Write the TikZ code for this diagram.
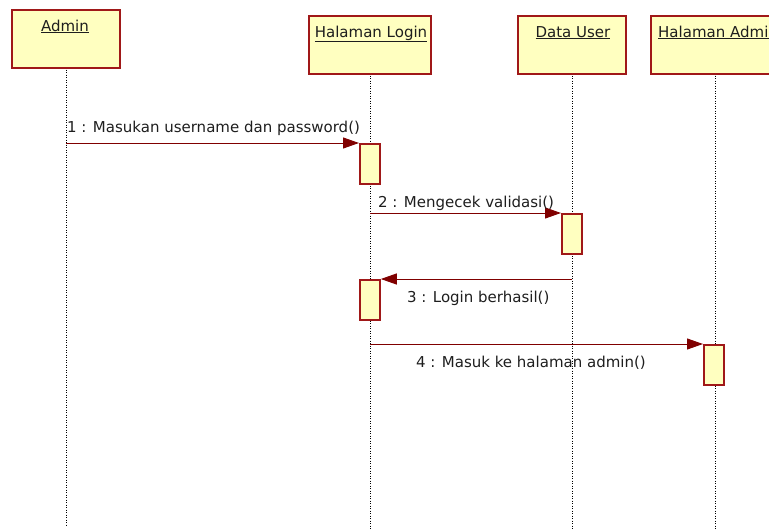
\documentclass[tikz,border=0pt]{standalone}
\usepackage{fontspec}
\setmainfont{DejaVu Sans}
\usetikzlibrary{arrows.meta}
\definecolor{bord}{HTML}{A01818}
\definecolor{fillY}{HTML}{FFFFC0}
\definecolor{msgc}{HTML}{800000}
\definecolor{txt}{HTML}{1E1E1E}
\begin{document}
\begin{tikzpicture}[x=1pt,y=-1pt,
  hdr/.style={draw=bord,fill=fillY,line width=2pt,inner sep=0pt,anchor=north west},
  actbox/.style={draw=bord,fill=fillY,line width=1.8pt,inner sep=0pt,minimum width=20pt,minimum height=40pt,anchor=north west},
  lbl/.style={text=txt,inner sep=0pt,font=\fontsize{15pt}{18pt}\selectfont},
  life/.style={draw=black,line width=0.9pt,dash pattern=on 1pt off 1.5pt},
  msgarrow/.style={draw=msgc,line width=1pt,-{Triangle[length=16pt,width=11pt]}}]
\useasboundingbox (0,0) rectangle (769,530);
\clip (0,0) rectangle (769,530);
% lifelines
\coordinate (l1t) at (66,67);   \coordinate (l1b) at (66,525);
\coordinate (l2t) at (370,73);  \coordinate (l2b) at (370,530);
\coordinate (l3t) at (572,73);  \coordinate (l3b) at (572,530);
\coordinate (l4t) at (715,73);  \coordinate (l4b) at (715,530);
\draw[life] (l1t) -- (l1b);
\draw[life] (l2t) -- (l2b);
\draw[life] (l3t) -- (l3b);
\draw[life] (l4t) -- (l4b);
% headers
\node[hdr,minimum width=108pt,minimum height=58pt] (admin) at (11,9) {};
\node[hdr,minimum width=122pt,minimum height=58pt] (login) at (308,15) {};
\node[hdr,minimum width=108pt,minimum height=58pt] (data) at (517,15) {};
\node[hdr,minimum width=140pt,minimum height=58pt] (hadmin) at (650,15) {};
\node[lbl,anchor=base] (tadmin) at (65,31) {\underline{Admin}};
\node[lbl,anchor=base] (tlogin) at (371,37) {\underline{Halaman Login}};
\node[lbl,anchor=base] (tdata) at (573,37) {\underline{Data User}};
\node[lbl,anchor=base west] (thadmin) at (658,37) {\underline{Halaman Admin}};
% activations
\node[actbox] (a1) at (359,143) {};
\node[actbox] (a2) at (561,213) {};
\node[actbox] (a3) at (359,279) {};
\node[actbox] (a4) at (703,344) {};
% messages
\coordinate (m1s) at (66,143);
\coordinate (m2s) at (370,213);
\coordinate (m3s) at (572,279);
\coordinate (m4s) at (370,344);
\draw[msgarrow] (m1s) -- (a1.north west);
\draw[msgarrow] (m2s) -- (a2.north west);
\draw[msgarrow] (m3s) -- (a3.north east);
\draw[msgarrow] (m4s) -- (a4.north west);
\node[lbl,anchor=base west] (t1) at (67,132) {1 : Masukan username dan password()};
\node[lbl,anchor=base west] (t2) at (378,207) {2 : Mengecek validasi()};
\node[lbl,anchor=base west] (t3) at (407,302) {3 : Login berhasil()};
\node[lbl,anchor=base west] (t4) at (416,367) {4 : Masuk ke halaman admin()};
\end{tikzpicture}
\end{document}
